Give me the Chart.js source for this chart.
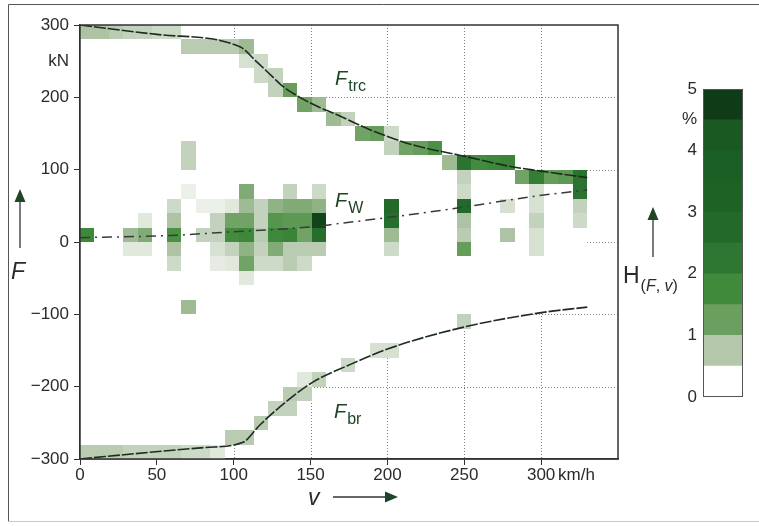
<!DOCTYPE html>
<html lang="en">
<head>
<meta charset="UTF-8">
<title>Force / speed histogram H(F, v)</title>
<script src="https://cdn.jsdelivr.net/npm/chart.js"></script>
<style>
  html, body { margin: 0; padding: 0; background: #fff; }
  #wrap { position: relative; width: 759px; height: 526px; }
  #mainChart { position: absolute; left: 0; top: 0; }
  #barChart { position: absolute; left: 640px; top: 70px; }
</style>
</head>
<body>
<div id="wrap">
  <canvas id="mainChart" width="759" height="526"></canvas>
  <canvas id="barChart" width="119" height="345"></canvas>
</div>
<script>
  // axis ticks
  const vTicks = [0, 50, 100, 150, 200, 250, 300];
  const fTicks = [-300, -200, -100, 0, 100, 200, 300];
  const KMH_AT = 323;   // where the unit label sits on the v axis
  const KN_AT = 250;    // where the unit label sits on the F axis

  // traction force curve F_trc(v)
  const vTrc = [0, 50, 104, 115, 125, 132, 143, 156, 165, 189, 217, 247, 281, 300, 330];
  const fTrc = [300, 287, 270, 249, 229, 215, 200, 186, 178, 155, 134, 120, 104, 98, 89];
  // braking force curve F_br(v)
  const vBr = [0, 49, 82, 106, 117, 134, 152, 174, 200, 249, 299, 330];
  const fBr = [-300, -290, -284, -277, -253, -221, -193, -171, -148, -118, -98, -90];
  // running resistance F_W(v)
  const vW = [0, 59, 98, 124, 156, 163, 208, 252, 295, 330];
  const fW = [6, 9, 14, 17, 22, 24, 36, 49, 63, 72];

  // histogram cells: [speed bin (330/35 km/h wide), lower force edge (20 kN bins), share in %]
  const cellsTrc = [
    [0, 280, 0.8], [1, 280, 0.8], [2, 280, 0.7], [3, 280, 0.6], [4, 280, 0.6], [5, 280, 0.5], [6, 280, 0.5],
    [7, 260, 0.7], [8, 260, 0.7], [9, 260, 0.7], [10, 260, 0.7], [11, 260, 0.9],
    [11, 240, 0.4], [12, 240, 0.5], [12, 220, 0.5], [13, 220, 0.6], [13, 200, 0.6],
    [14, 200, 1.3], [15, 180, 1.2], [16, 180, 0.9], [17, 160, 0.9], [18, 160, 0.6],
    [19, 140, 1.2], [20, 140, 1.3], [21, 140, 0.5], [21, 120, 0.6], [22, 120, 1.2], [23, 120, 1.3], [24, 120, 1.6],
    [25, 100, 0.9], [26, 100, 2.4], [27, 100, 1.7], [28, 100, 1.8], [29, 100, 1.9],
    [30, 80, 1.2], [31, 80, 2.1], [32, 80, 1.3], [33, 80, 1.4], [34, 80, 2.4], [34, 60, 2.4]
  ];
  const cellsW = [
    [0, 0, 1.8],
    [3, 0, 0.9], [3, -20, 0.3],
    [4, 20, 0.3], [4, 0, 1.1], [4, -20, 0.3],
    [6, 40, 0.5], [6, 20, 0.8], [6, 0, 1.6], [6, -20, 0.8], [6, -40, 0.5],
    [7, 120, 0.6], [7, 100, 0.6], [7, 60, 0.2], [7, -100, 0.9],
    [8, 40, 0.2], [8, 0, 0.6],
    [9, 40, 0.2], [9, 20, 0.6], [9, 0, 0.6], [9, -20, 0.4], [9, -40, 0.25],
    [10, 40, 0.3], [10, 20, 1.2], [10, 0, 1.7], [10, -20, 0.6], [10, -40, 0.3],
    [11, 60, 1.1], [11, 40, 0.9], [11, 20, 1.2], [11, 0, 1.8], [11, -20, 1.0], [11, -40, 1.2], [11, -60, 0.3],
    [12, 40, 0.6], [12, 20, 0.6], [12, 0, 0.7], [12, -20, 0.6], [12, -40, 0.5],
    [13, 40, 1.0], [13, 20, 1.5], [13, 0, 1.8], [13, -20, 1.1], [13, -40, 0.5],
    [14, 60, 0.6], [14, 40, 1.1], [14, 20, 1.4], [14, 0, 1.9], [14, -20, 0.7], [14, -40, 0.7],
    [15, 40, 1.1], [15, 20, 1.4], [15, 0, 1.2], [15, -20, 0.7], [15, -40, 0.5],
    [16, 60, 0.5], [16, 40, 1.0], [16, 20, 4.6], [16, 0, 2.6], [16, -20, 0.7],
    [21, 40, 2.8], [21, 20, 2.6], [21, 0, 0.9], [21, -20, 0.5],
    [26, 80, 0.6], [26, 60, 0.5], [26, 40, 2.8], [26, 20, 0.8], [26, 0, 0.7], [26, -20, 1.3],
    [29, 40, 0.4], [29, 0, 0.8],
    [31, 60, 0.4], [31, 40, 0.4], [31, 20, 0.6], [31, 0, 0.4], [31, -20, 0.4],
    [34, 40, 0.6], [34, 20, 0.5]
  ];
  const cellsBr = [
    [0, -300, 0.7], [1, -300, 0.7], [2, -300, 0.7], [3, -300, 0.6], [4, -300, 0.6],
    [5, -300, 0.6], [6, -300, 0.6], [7, -300, 0.5], [8, -300, 0.5], [9, -300, 0.3],
    [10, -280, 0.7], [11, -280, 0.7], [12, -260, 0.7],
    [13, -240, 0.6], [14, -240, 0.6], [14, -220, 0.7], [15, -220, 0.6],
    [15, -200, 0.3], [16, -200, 0.6], [18, -180, 0.5], [20, -160, 0.4], [21, -160, 0.4],
    [26, -120, 0.6]
  ];

  // colour bar: lower edge of each 0.5 % band
  const bandLow = [0, 0.5, 1, 1.5, 2, 2.5, 3, 3.5, 4, 4.5];
  const barTicks = [0, 1, 2, 3, 4, 4.5, 5];

  const V_BIN = 330 / 35, F_BIN = 20;
  const bandColors = ['#ffffff', '#b4c7ab', '#6a9f5f', '#3f8a3b', '#2e7732', '#236a2a', '#1e6226', '#1c5f24', '#1a5a22', '#0f3b16'];
  const FONT = '"Liberation Sans", Arial, Helvetica, sans-serif';
  const TXT = '#2a2a2a';
  const DARKGREEN = '#1f4527';
  const GRID = '#808080';

  function hexRgb(h) { return [1, 3, 5].map(i => parseInt(h.slice(i, i + 2), 16)); }
  // shade of a cell: band colours placed at the band centres, blended in between
  function cellColor(h) {
    const pos = [0].concat(bandLow.slice(1).map(b => b + 0.25));
    if (h >= pos[pos.length - 1]) return bandColors[bandColors.length - 1];
    let i = 0;
    while (h > pos[i + 1]) i++;
    const t = (h - pos[i]) / (pos[i + 1] - pos[i]);
    const a = hexRgb(bandColors[i]), b = hexRgb(bandColors[i + 1]);
    return 'rgb(' + a.map((c, k) => Math.round(c + (b[k] - c) * t)).join(',') + ')';
  }

  function arrow(ctx, x1, y1, x2, y2) {
    const ang = Math.atan2(y2 - y1, x2 - x1), len = 13, half = 5.5;
    const bx = x2 - Math.cos(ang) * len, by = y2 - Math.sin(ang) * len;
    ctx.strokeStyle = '#333'; ctx.lineWidth = 1.3;
    ctx.beginPath(); ctx.moveTo(x1, y1); ctx.lineTo(bx, by); ctx.stroke();
    ctx.fillStyle = DARKGREEN;
    ctx.beginPath();
    ctx.moveTo(x2, y2);
    ctx.lineTo(bx - Math.sin(ang) * half, by + Math.cos(ang) * half);
    ctx.lineTo(bx + Math.sin(ang) * half, by - Math.cos(ang) * half);
    ctx.closePath(); ctx.fill();
  }

  function subLabel(ctx, x, y, main, sub, size, subSize) {
    ctx.fillStyle = DARKGREEN;
    ctx.font = 'italic ' + size + 'px ' + FONT;
    ctx.fillText(main, x, y);
    const w = ctx.measureText(main).width;
    ctx.font = subSize + 'px ' + FONT;
    ctx.fillText(sub, x + w + 1, y + subSize * 0.4);
  }

  const fieldLayer = {
    id: 'fieldLayer',
    beforeDatasetsDraw(chart) {
      const { ctx, chartArea: a, scales: { x, y } } = chart;
      ctx.save();
      // dotted grid at the labelled ticks
      ctx.strokeStyle = GRID; ctx.lineWidth = 1; ctx.setLineDash([1, 2]);
      ctx.beginPath();
      vTicks.slice(1).forEach(v => {
        const px = Math.round(x.getPixelForValue(v)) + 0.5;
        ctx.moveTo(px, a.top); ctx.lineTo(px, a.bottom);
      });
      fTicks.slice(1, -1).forEach(f => {
        const py = Math.round(y.getPixelForValue(f)) + 0.5;
        ctx.moveTo(a.left, py); ctx.lineTo(a.right, py);
      });
      ctx.stroke();
      ctx.setLineDash([]);
      // sampled area between braking and traction curve is blank paper
      ctx.fillStyle = '#ffffff';
      ctx.beginPath();
      vTrc.forEach((v, i) => {
        const px = x.getPixelForValue(v), py = y.getPixelForValue(fTrc[i]);
        if (i === 0) ctx.moveTo(px, py); else ctx.lineTo(px, py);
      });
      for (let i = vBr.length - 1; i >= 0; i--) ctx.lineTo(x.getPixelForValue(vBr[i]), y.getPixelForValue(fBr[i]));
      ctx.closePath();
      ctx.fill();
      cellsTrc.concat(cellsW, cellsBr).forEach(([k, f, h]) => {
        const x0 = Math.round(x.getPixelForValue(k * V_BIN)), x1 = Math.round(x.getPixelForValue((k + 1) * V_BIN));
        const y0 = Math.round(y.getPixelForValue(f + F_BIN)), y1 = Math.round(y.getPixelForValue(f));
        ctx.fillStyle = cellColor(h);
        ctx.fillRect(x0, y0, x1 - x0, y1 - y0);
      });
      ctx.restore();
    },
    afterDatasetsDraw(chart) {
      const { ctx, chartArea: a } = chart;
      ctx.save();
      ctx.strokeStyle = '#333'; ctx.lineWidth = 1.5;
      ctx.strokeRect(a.left, a.top, a.right - a.left, a.bottom - a.top);

      // outer frame of the figure
      ctx.strokeStyle = '#555'; ctx.lineWidth = 1;
      ctx.beginPath(); ctx.moveTo(759, 4.5); ctx.lineTo(8.5, 4.5); ctx.lineTo(8.5, 521.5); ctx.stroke();
      ctx.strokeStyle = '#c8c8c8';
      ctx.beginPath(); ctx.moveTo(8.5, 521.5); ctx.lineTo(759, 521.5); ctx.stroke();

      ctx.textBaseline = 'alphabetic'; ctx.textAlign = 'left';
      subLabel(ctx, 335, 85, 'F', 'trc', 20, 16);
      subLabel(ctx, 335, 207, 'F', 'W', 20, 16);
      subLabel(ctx, 334, 418, 'F', 'br', 20, 16);

      // axis titles
      ctx.fillStyle = TXT;
      ctx.font = 'italic 23px ' + FONT;
      ctx.fillText('F', 11, 279);
      ctx.fillText('v', 308, 505);
      arrow(ctx, 20, 248, 20, 189);
      arrow(ctx, 333, 497, 398, 497);

      // colour bar title H(F, v)
      ctx.fillStyle = TXT;
      ctx.font = '23px ' + FONT;
      ctx.fillText('H', 623, 283);
      let cx = 623 + ctx.measureText('H').width + 1;
      [['(', ''], ['F', 'italic '], [', ', ''], ['v', 'italic '], [')', '']].forEach(([t, st]) => {
        ctx.font = st + '16px ' + FONT;
        ctx.fillText(t, cx, 291);
        cx += ctx.measureText(t).width;
      });
      arrow(ctx, 653, 257, 653, 207);
      ctx.restore();
    }
  };

  const line = (vs, fs) => vs.map((v, i) => ({ x: v, y: fs[i] }));
  const tickFont = { family: FONT, size: 17 };

  new Chart(document.getElementById('mainChart'), {
    type: 'scatter',
    data: {
      datasets: [
        { data: line(vTrc, fTrc), showLine: true, pointRadius: 0, borderColor: '#1e2b21', borderWidth: 1.6, borderDash: [12, 2], cubicInterpolationMode: 'monotone' },
        { data: line(vBr, fBr), showLine: true, pointRadius: 0, borderColor: '#1e2b21', borderWidth: 1.6, borderDash: [12, 2], cubicInterpolationMode: 'monotone' },
        { data: line(vW, fW), showLine: true, pointRadius: 0, borderColor: '#3a3a3a', borderWidth: 1.5, borderDash: [10, 5, 2, 5], cubicInterpolationMode: 'monotone' }
      ]
    },
    options: {
      responsive: false,
      animation: false,
      layout: { padding: { left: 0, top: 25, right: 141, bottom: 37 } },
      plugins: { legend: { display: false }, tooltip: { enabled: false } },
      scales: {
        x: {
          type: 'linear', min: 0, max: 350,
          afterBuildTicks: s => { s.ticks = vTicks.concat([KMH_AT]).map(v => ({ value: v })); },
          afterFit: s => { s.height = 30; },
          ticks: {
            autoSkip: false, maxRotation: 0, padding: 0, color: TXT, font: tickFont,
            callback: v => v === KMH_AT ? 'km/h' : String(v)
          },
          grid: {
            drawOnChartArea: false,
            tickColor: c => (c.tick && c.tick.value === KMH_AT) ? 'rgba(0,0,0,0)' : '#333',
            tickLength: 6
          },
          border: { color: '#333', width: 1.5 }
        },
        y: {
          type: 'linear', min: -300, max: 300,
          afterBuildTicks: s => { s.ticks = fTicks.concat([KN_AT]).sort((p, q) => p - q).map(v => ({ value: v })); },
          afterFit: s => { s.width = 80; },
          ticks: {
            autoSkip: false, padding: 5, color: TXT, font: tickFont,
            callback: v => v === KN_AT ? 'kN' : (v < 0 ? '\u2212' + Math.abs(v) : String(v))
          },
          grid: {
            drawOnChartArea: false,
            tickColor: c => (c.tick && c.tick.value === KN_AT) ? 'rgba(0,0,0,0)' : '#333',
            tickLength: 6
          },
          border: { color: '#333', width: 1.5 }
        }
      }
    },
    plugins: [fieldLayer]
  });

  // colour bar for H(F, v) in %
  new Chart(document.getElementById('barChart'), {
    type: 'bar',
    data: {
      labels: ['H'],
      datasets: bandLow.map((lo, i) => ({
        data: [[lo, lo + 0.5]], backgroundColor: bandColors[i], borderWidth: 0,
        barPercentage: 1, categoryPercentage: 1, grouped: false
      }))
    },
    options: {
      responsive: false,
      animation: false,
      layout: { padding: { left: 0, right: 16, top: 19, bottom: 18 } },
      plugins: { legend: { display: false }, tooltip: { enabled: false } },
      scales: {
        x: { display: false },
        y: {
          min: 0, max: 5,
          afterBuildTicks: s => { s.ticks = barTicks.map(v => ({ value: v })); },
          afterFit: s => { s.width = 63; },
          ticks: { padding: 6, color: TXT, font: tickFont, callback: v => v === 4.5 ? '%' : String(v) },
          grid: { display: false, drawTicks: false },
          border: { display: false }
        }
      }
    },
    plugins: [{
      id: 'barOutline',
      afterDatasetsDraw(chart) {
        const { ctx, chartArea: a } = chart;
        ctx.save();
        ctx.strokeStyle = '#555'; ctx.lineWidth = 1;
        ctx.strokeRect(a.left + 0.5, a.top + 0.5, a.right - a.left - 1, a.bottom - a.top - 1);
        ctx.restore();
      }
    }]
  });
</script>
</body>
</html>
